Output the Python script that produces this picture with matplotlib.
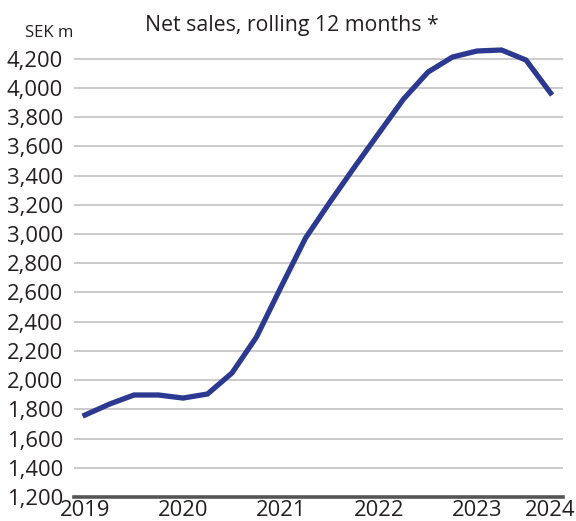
import matplotlib.pyplot as plt

plt.rcParams['font.family'] = ['Open Sans', 'DejaVu Sans']

# rolling 12 months net sales, quarterly points (SEK m)
quarters = list(range(20))
net_sales = [1761, 1836, 1898, 1898, 1877, 1905, 2049, 2295, 2637, 2972,
             3219, 3458, 3691, 3923, 4108, 4211, 4252, 4259, 4190, 3965]
year_pos = [0, 4, 8, 12, 16, 19]
year_labels = ['2019', '2020', '2021', '2022', '2023', '2024']
y_ticks = list(range(1200, 4201, 200))

fig = plt.figure(figsize=(5.76, 5.21), dpi=100)
ax = fig.add_axes([74/576, 1 - 497/521, (563 - 74)/576, 453/521])

ax.plot(quarters, net_sales, color='#2b3990', lw=3.8, solid_joinstyle='miter', zorder=3)

ax.set_xlim(-0.45, 19.51)
ax.set_ylim(1200, 4300)
ax.set_yticks(y_ticks)
ax.set_yticklabels([f'{v:,}' for v in y_ticks])
ax.set_xticks(year_pos)
ax.set_xticklabels(year_labels)
ax.yaxis.grid(True, color='#bdbdbd', lw=1.1)
ax.set_axisbelow(True)
for s in ['top', 'right', 'left']:
    ax.spines[s].set_visible(False)
ax.spines['bottom'].set_color('#555555')
ax.spines['bottom'].set_linewidth(2.6)
ax.tick_params(axis='both', length=0, labelsize=15.8, colors='#231f20')
ax.tick_params(axis='y', pad=8)
ax.tick_params(axis='x', pad=2)

fig.text(292/576, 1 - 26/521, 'Net sales, rolling 12 months *', ha='center', va='center',
         fontsize=15.3, color='#231f20')
fig.text(49/576, 1 - 33/521, 'SEK m', ha='center', va='center', fontsize=12, color='#231f20')

plt.savefig('out.png', dpi=100)
